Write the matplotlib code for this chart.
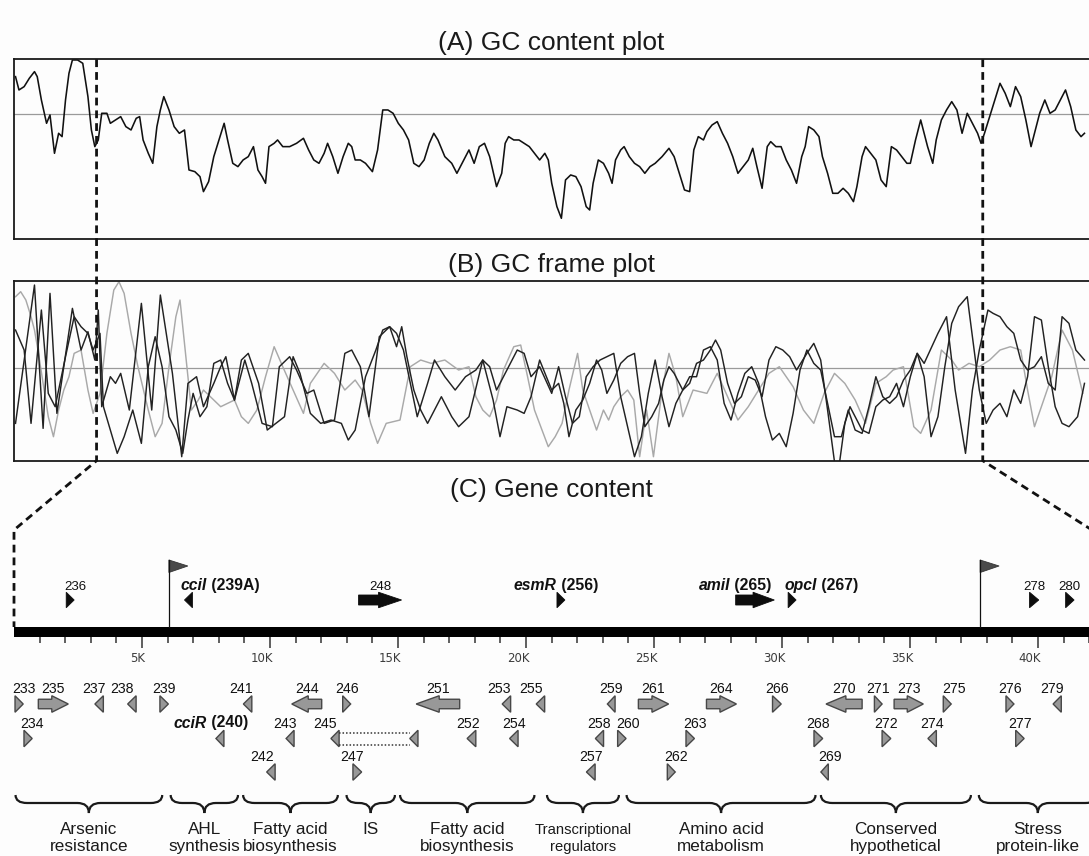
import numpy as np
import matplotlib
matplotlib.use("Agg")
import matplotlib.pyplot as plt
from matplotlib.patches import Polygon, PathPatch, Rectangle
from matplotlib.path import Path
from matplotlib.lines import Line2D

plt.rcParams['font.family'] = ['Liberation Sans', 'DejaVu Sans']

W, H = 1089, 856

# ---------------- (A) GC content: (window, GC %)
gc_content = [
    (45, 68.5), (55, 66.5), (70, 67.0), (85, 68.25), (100, 69.25), (108, 68.5), (120, 65.0), (135, 61.5),
    (145, 62.75), (158, 57.0), (170, 60.0), (180, 59.5), (190, 65.0), (200, 69.0), (210, 71.0), (225, 71.0),
    (240, 70.5), (255, 65.5), (265, 60.5), (275, 58.0), (285, 59.0), (295, 63.0), (310, 63.0), (320, 61.5),
    (335, 62.0), (350, 62.5), (365, 61.0), (380, 60.5), (395, 62.25), (405, 62.5), (415, 59.0), (430, 57.0),
    (443, 55.5), (455, 61.0), (465, 63.5), (475, 65.5), (490, 63.5), (505, 61.0), (520, 60.0), (535, 60.5),
    (548, 54.5), (565, 54.25), (580, 53.5), (590, 51.25), (605, 52.75), (620, 56.5), (635, 59.0), (650, 61.5),
    (660, 59.0), (675, 55.5), (690, 55.0), (705, 56.0), (720, 56.5), (735, 58.0), (748, 54.5), (760, 53.5),
    (770, 52.5), (780, 58.0), (795, 58.5), (805, 59.0), (820, 58.0), (840, 58.0), (860, 58.5), (880, 59.25),
    (895, 57.5), (910, 56.0), (925, 55.5), (940, 57.0), (950, 58.5), (965, 56.5), (980, 54.0), (995, 56.5),
    (1010, 58.5), (1020, 58.0), (1030, 56.0), (1045, 56.0), (1060, 55.5), (1080, 54.25), (1095, 57.5),
    (1110, 63.5), (1125, 63.5), (1140, 63.0), (1155, 61.5), (1170, 60.5), (1185, 59.0), (1200, 55.5),
    (1215, 55.0), (1230, 56.0), (1245, 58.5), (1258, 60.0), (1270, 59.0), (1290, 56.5), (1310, 55.5),
    (1325, 54.0), (1340, 55.5), (1360, 57.5), (1375, 55.5), (1390, 58.0), (1405, 58.5), (1420, 56.5),
    (1440, 52.0), (1455, 54.0), (1465, 58.5), (1475, 59.5), (1490, 59.0), (1505, 59.0), (1520, 58.5),
    (1535, 58.0), (1550, 57.0), (1565, 56.0),
    (1580, 57.0), (1590, 56.0), (1600, 52.5), (1615, 49.0), (1628, 47.25), (1640, 53.0), (1655, 53.75),
    (1670, 53.5), (1685, 52.0), (1700, 49.0), (1710, 48.5), (1720, 52.5), (1735, 56.0), (1750, 55.5),
    (1765, 54.0), (1775, 52.5), (1785, 56.0), (1800, 57.5), (1810, 58.0), (1825, 56.5), (1840, 55.5),
    (1855, 55.0), (1870, 54.0), (1885, 55.0), (1900, 55.5), (1920, 56.5), (1940, 57.75), (1955, 56.5),
    (1970, 54.0), (1985, 51.5), (2000, 51.25), (2012, 57.5), (2025, 59.5), (2040, 59.0), (2050, 60.25),
    (2065, 61.25), (2080, 61.75), (2095, 60.0), (2110, 58.5), (2125, 56.5), (2140, 54.0), (2155, 55.0),
    (2170, 56.0), (2183, 57.75), (2195, 55.0), (2210, 51.75), (2225, 58.0), (2235, 58.75), (2250, 58.0),
    (2265, 58.0), (2280, 56.0), (2295, 54.5), (2310, 52.5), (2325, 56.5), (2335, 58.0), (2345, 61.0),
    (2360, 60.5), (2375, 59.5), (2385, 56.5), (2400, 54.0), (2415, 51.0), (2430, 51.0), (2445, 51.75),
    (2460, 51.0), (2475, 49.75), (2485, 52.0), (2500, 56.5), (2510, 58.0), (2525, 57.0), (2540, 56.0),
    (2555, 53.0), (2570, 52.0), (2585, 58.0), (2600, 57.5), (2615, 56.5), (2630, 55.5), (2640, 55.5),
    (2655, 59.0), (2670, 62.0), (2680, 60.0), (2690, 58.0), (2705, 55.5), (2715, 59.0), (2730, 62.0),
    (2745, 63.5), (2760, 64.75), (2775, 63.5), (2790, 60.0), (2805, 63.0), (2820, 61.5), (2835, 60.0),
    (2845, 58.5), (2855, 60.0), (2870, 62.5), (2885, 65.0), (2900, 67.5), (2915, 66.0), (2930, 64.0),
    (2945, 67.0), (2960, 65.5), (2975, 62.0), (2990, 58.0), (3005, 61.0), (3015, 63.0), (3030, 65.0),
    (3045, 63.0), (3060, 63.5), (3075, 65.0), (3090, 66.5), (3105, 64.0), (3120, 60.5), (3135, 59.5),
    (3145, 60.0),
]

# ---------------- (B) GC frame plot: three frames (window, GC %)
frame1 = [
    (45, 48.0), (100, 89.5), (125, 46.5), (145, 87.0), (165, 51.0), (210, 82.5), (235, 70.0), (255, 75.5),
    (275, 67.0), (285, 82.0), (295, 53.0), (320, 62.0), (335, 60.0), (350, 63.0), (375, 52.0), (410, 84.0),
    (440, 52.0), (465, 86.5), (500, 63.0), (527, 38.0), (545, 60.0), (570, 62.0), (590, 53.0), (620, 60.0),
    (640, 65.0), (655, 68.0), (680, 55.0), (700, 67.0), (720, 69.0), (750, 60.0), (775, 46.0), (800, 48.0),
    (825, 50.0), (850, 68.0), (870, 63.0), (900, 51.0), (930, 48.0), (960, 49.0), (990, 48.0), (1010, 43.0),
    (1030, 46.0), (1060, 62.0), (1090, 70.0), (1110, 76.0), (1130, 77.0), (1150, 71.0), (1165, 77.0),
    (1180, 68.0), (1200, 58.0), (1220, 52.0), (1240, 48.0), (1280, 56.0), (1310, 50.0), (1330, 47.0),
    (1360, 50.0), (1400, 67.0), (1430, 55.0), (1450, 44.0), (1470, 53.0), (1500, 52.0), (1520, 51.0),
    (1540, 56.0), (1565, 67.0),
    (1600, 58.0), (1620, 60.0), (1635, 54.0), (1650, 44.0), (1670, 52.0), (1690, 55.0), (1710, 60.0),
    (1730, 67.0), (1745, 64.0), (1760, 57.0), (1780, 61.0), (1800, 66.0), (1820, 68.0), (1840, 69.0),
    (1855, 57.0), (1870, 47.0), (1890, 50.0), (1910, 54.0), (1925, 61.0), (1940, 65.0), (1955, 63.0),
    (1980, 58.0), (2000, 60.0), (2020, 66.0), (2040, 67.0), (2060, 70.0), (2075, 73.0), (2090, 70.0),
    (2110, 60.0), (2130, 54.0), (2150, 56.0), (2170, 62.0), (2190, 61.0), (2210, 56.0), (2230, 67.0),
    (2250, 71.0), (2270, 70.0), (2290, 68.0), (2310, 64.0), (2340, 69.0), (2360, 72.0), (2380, 67.0),
    (2400, 52.0), (2420, 36.5), (2435, 36.5), (2450, 48.0), (2465, 53.0), (2480, 50.0), (2500, 46.0),
    (2520, 45.0), (2540, 53.0), (2560, 55.0), (2580, 56.0), (2600, 60.0), (2620, 53.0), (2640, 62.0),
    (2660, 69.0), (2680, 66.0), (2720, 75.0), (2745, 80.0), (2770, 58.0), (2800, 39.0), (2820, 58.0),
    (2840, 70.0), (2865, 82.0), (2880, 81.0), (2900, 80.0), (2920, 77.0), (2940, 75.0), (2960, 67.0),
    (2980, 64.0), (3000, 65.0), (3020, 68.0), (3040, 60.0), (3060, 58.0), (3080, 80.0), (3100, 78.0),
    (3120, 70.0), (3145, 67.0),
]
frame2 = [
    (45, 76.0), (70, 70.0), (90, 48.0), (120, 82.0), (140, 57.0), (160, 53.0), (190, 68.0), (215, 80.0),
    (235, 77.0), (255, 75.0), (270, 70.0), (290, 75.0), (300, 53.0), (320, 46.0), (340, 39.0), (360, 44.0),
    (385, 52.0), (410, 42.0), (430, 65.0), (450, 74.0), (470, 65.0), (490, 50.0), (510, 46.0), (530, 39.0),
    (545, 49.0), (560, 57.0), (580, 50.0), (600, 53.0), (620, 66.0), (640, 67.0), (660, 60.0), (680, 55.0),
    (710, 67.0), (730, 60.0), (760, 48.0), (790, 47.0), (810, 65.0), (840, 68.0), (860, 64.0), (890, 57.0),
    (910, 58.0), (940, 48.0), (970, 49.0), (1000, 69.0), (1020, 70.0), (1045, 65.0), (1070, 50.0),
    (1100, 74.0), (1130, 77.0), (1150, 75.0), (1170, 70.0), (1190, 60.0), (1210, 50.0), (1240, 60.0),
    (1260, 67.0), (1290, 62.0), (1320, 58.0), (1350, 62.0), (1380, 64.0), (1400, 67.0), (1420, 65.0),
    (1440, 58.0), (1460, 62.0), (1480, 66.0), (1500, 70.0), (1520, 69.0), (1540, 62.0), (1565, 65.0),
    (1600, 57.0), (1620, 65.0), (1640, 56.0), (1660, 48.0), (1680, 50.0), (1700, 62.0), (1720, 65.0),
    (1740, 67.0), (1760, 68.0), (1780, 69.0), (1800, 56.0), (1820, 47.0), (1840, 38.0), (1860, 44.0),
    (1880, 57.0), (1900, 67.0), (1920, 56.0), (1940, 47.0), (1960, 54.0), (1980, 58.0), (2000, 62.0),
    (2020, 62.0), (2040, 70.0), (2060, 71.0), (2080, 67.0), (2100, 54.0), (2120, 49.0), (2140, 57.0),
    (2160, 63.0), (2180, 65.0), (2200, 60.0), (2220, 50.0), (2240, 43.0), (2260, 45.0), (2280, 41.0),
    (2300, 51.0), (2320, 64.0), (2340, 70.0), (2360, 66.0), (2380, 64.0), (2400, 54.0), (2420, 44.0),
    (2440, 44.0), (2460, 52.0), (2480, 46.0), (2500, 45.0), (2520, 53.0), (2540, 62.0), (2560, 56.0),
    (2580, 54.0), (2600, 56.0), (2620, 61.0), (2640, 64.0), (2660, 69.0), (2680, 62.0), (2700, 44.0),
    (2720, 50.0), (2740, 65.0), (2760, 78.0), (2780, 83.0), (2805, 86.0), (2825, 70.0), (2840, 58.0),
    (2860, 48.0), (2880, 52.0), (2900, 54.0), (2920, 50.0), (2940, 58.0), (2960, 54.0), (2980, 62.0),
    (3000, 80.0), (3020, 79.0), (3040, 65.0), (3060, 53.0), (3080, 48.0), (3100, 47.0), (3125, 50.0),
    (3145, 60.0),
]
frame3 = [
    (45, 86.0), (60, 87.5), (75, 85.0), (90, 80.0), (100, 76.0), (110, 70.0), (125, 60.0), (140, 50.0),
    (155, 44.0), (170, 52.0), (185, 58.0), (200, 62.0), (215, 69.0), (235, 70.0), (255, 58.0), (270, 51.0),
    (290, 57.0), (310, 75.0), (330, 88.0), (345, 90.5), (360, 87.0), (380, 75.0), (400, 65.0), (430, 52.0),
    (450, 44.0), (470, 48.0), (490, 65.0), (510, 80.0), (522, 85.0), (540, 67.0), (555, 52.0), (575, 55.0),
    (590, 58.0), (610, 56.0), (640, 53.0), (680, 55.0), (700, 50.0), (720, 48.0), (745, 52.0), (770, 62.0),
    (795, 71.0), (820, 65.0), (850, 58.0), (880, 51.0), (900, 60.0), (940, 66.0), (970, 63.0), (1000, 58.0),
    (1030, 61.0), (1050, 58.0), (1075, 48.0), (1095, 42.0), (1120, 48.0), (1160, 49.0), (1190, 65.0),
    (1220, 67.0), (1250, 66.0), (1290, 67.0), (1330, 64.0), (1360, 65.0), (1380, 56.0), (1400, 52.0),
    (1420, 50.0), (1440, 55.0), (1460, 64.0), (1490, 71.0), (1510, 71.5), (1530, 62.0), (1550, 52.0),
    (1590, 41.0), (1610, 44.0), (1630, 48.0), (1650, 58.0), (1675, 69.0), (1690, 58.0), (1710, 52.0),
    (1730, 46.0), (1750, 52.0), (1765, 49.0), (1780, 53.0), (1800, 56.0), (1820, 58.0), (1838, 55.0),
    (1855, 38.0), (1875, 52.0), (1895, 38.0), (1920, 58.0), (1940, 69.0), (1960, 62.0), (1980, 50.0),
    (2010, 58.0), (2050, 57.0), (2080, 63.0), (2110, 56.0), (2140, 49.0), (2170, 53.0), (2200, 58.0),
    (2230, 63.0), (2260, 65.0), (2300, 59.0), (2330, 52.0), (2360, 48.0), (2390, 57.0), (2420, 63.0),
    (2450, 60.0), (2480, 55.0), (2510, 48.0), (2540, 60.0), (2570, 62.0), (2590, 64.0), (2620, 65.0),
    (2650, 47.0), (2670, 45.0), (2700, 52.0), (2730, 70.0), (2760, 67.0), (2780, 64.0), (2810, 66.0),
    (2840, 65.0), (2870, 67.0), (2900, 70.0), (2930, 71.0), (2960, 70.0), (2980, 58.0), (3000, 47.0),
    (3020, 53.0), (3050, 62.0), (3080, 76.0), (3110, 70.0), (3140, 57.0),
]

gc_mean = 62.85
frame_mean = 64.5
gc_ylim = (44.1, 71.1)
frame_ylim = (36.8, 90.8)
window_lim = (40.6, 3166.8)
zoom_windows = (280, 2850)        # region expanded in panel C

# ---------------- (C) gene content (kb)
region_kb = (0.0, 42.11)
flag_kb = [6.05, 37.74]

top_genes = [   # id, start, end, strand
    ('236', 2.04, 2.35, 1),
    ('239A', 6.66, 6.97, -1),
    ('248', 13.46, 15.14, 1),
    ('256', 21.21, 21.52, 1),
    ('265', 28.19, 29.70, 1),
    ('267', 30.24, 30.55, 1),
    ('278', 39.67, 40.03, 1),
    ('280', 41.08, 41.41, 1),
]

lower_genes = [   # id, start, end, strand, row
    ('233', 0.04, 0.36, 1, 1), ('235', 0.95, 2.12, 1, 1), ('237', 3.16, 3.49, -1, 1),
    ('238', 4.44, 4.77, -1, 1), ('239', 5.70, 6.03, 1, 1), ('241', 8.96, 9.29, -1, 1),
    ('244', 10.85, 12.02, -1, 1), ('246', 12.84, 13.15, 1, 1), ('251', 15.71, 17.41, -1, 1),
    ('253', 19.07, 19.40, -1, 1), ('255', 20.40, 20.73, -1, 1), ('259', 23.18, 23.48, -1, 1),
    ('261', 24.39, 25.57, 1, 1), ('264', 27.05, 28.22, 1, 1), ('266', 29.63, 29.97, 1, 1),
    ('270', 31.72, 33.13, -1, 1), ('271', 33.61, 33.91, 1, 1), ('273', 34.38, 35.52, 1, 1),
    ('275', 36.30, 36.61, 1, 1), ('276', 38.75, 39.06, 1, 1), ('279', 40.59, 40.91, -1, 1),
    ('234', 0.39, 0.71, 1, 2), ('240', 7.89, 8.20, -1, 2), ('243', 10.63, 10.94, -1, 2),
    ('252', 17.70, 18.04, -1, 2), ('254', 19.36, 19.69, -1, 2), ('258', 22.71, 23.03, -1, 2),
    ('260', 23.58, 23.91, 1, 2), ('263', 26.25, 26.58, 1, 2), ('268', 31.25, 31.59, 1, 2),
    ('272', 33.91, 34.25, 1, 2), ('274', 35.70, 36.03, -1, 2), ('277', 39.13, 39.46, 1, 2),
    ('242', 9.87, 10.20, -1, 3), ('247', 13.24, 13.58, 1, 3), ('257', 22.36, 22.70, -1, 3),
    ('262', 25.52, 25.83, 1, 3), ('269', 31.52, 31.81, -1, 3),
]

is_elements = [('245', 12.38, 15.78, -1, 2)]

gene_names = {'239A': 'cciI', '240': 'cciR', '256': 'esmR', '265': 'amiI', '267': 'opcI'}

groups = [
    ('Arsenic', 'resistance', 0.06, 5.79),
    ('AHL', 'synthesis', 6.12, 8.75),
    ('Fatty acid', 'biosynthesis', 8.95, 12.65),
    ('IS', '', 12.99, 14.88),
    ('Fatty acid', 'biosynthesis', 15.08, 20.33),
    ('Transcriptional', 'regulators', 20.82, 23.63),
    ('Amino acid', 'metabolism', 23.93, 31.31),
    ('Conserved', 'hypothetical', 31.52, 37.38),
    ('Stress', 'protein-like', 37.69, 42.30),
]

# label nudges (kb) - styling only
nudge = {'233': 0.2, '234': 0.15, '236': 0.2, '237': -0.2, '238': -0.4, '241': -0.27, '242': -0.35,
         '243': -0.2, '245': -0.4, '247': -0.2, '252': -0.15, '253': -0.3, '255': -0.35, '260': 0.25,
         '262': 0.2, '263': 0.2, '269': 0.2, '275': 0.25, '279': -0.2,
         '239A': 1.23, '240': -0.36, '256': -0.2, '265': -0.77, '267': 1.16}

# ---------------------------------------------------------------
fig = plt.figure(figsize=(W / 100, H / 100), dpi=100, facecolor='#fdfdfd')


def px_axes(x0, y0, x1, y1):
    return fig.add_axes([x0 / W, 1 - y1 / H, (x1 - x0) / W, (y1 - y0) / H])


def style_panel(ax):
    ax.set_facecolor('none')
    ax.set_xticks([])
    ax.set_yticks([])
    for s in ax.spines.values():
        s.set_linewidth(1.3)
        s.set_color('#1a1a1a')


axA = px_axes(14, 59.3, 1092, 239.3)
axB = px_axes(14, 280.7, 1092, 460.7)
axG = px_axes(14, 500, 1092, 856)

# ---- panel A
style_panel(axA)
w, v = zip(*gc_content)
axA.axhline(gc_mean, color='#9a9a9a', lw=0.9)
axA.plot(w, v, color='#111111', lw=1.15)
axA.set_xlim(window_lim)
axA.set_ylim(gc_ylim)

# ---- panel B
style_panel(axB)
axB.axhline(frame_mean, color='#9a9a9a', lw=0.9)
w, v = zip(*frame3)
axB.plot(w, v, color='#a9a9a9', lw=1.05)
for fr in (frame1, frame2):
    w, v = zip(*fr)
    axB.plot(w, v, color='#222222', lw=1.05)
axB.set_xlim(window_lim)
axB.set_ylim(frame_ylim)

# ---- titles
for txt, yb in [('(A) GC content plot', 50), ('(B) GC frame plot', 271.7), ('(C) Gene content', 496.7)]:
    fig.text(551 / W, 1 - yb / H, txt, ha='center', va='baseline', fontsize=19, color='#1a1a1a')

# ---- panel C
axG.set_axis_off()
axG.set_xlim(region_kb)
axG.set_ylim(856, 500)

bar_top, bar_bot = 627, 636.5
axG.add_patch(Rectangle((region_kb[0], bar_top), region_kb[1] - region_kb[0], bar_bot - bar_top,
                        color='black', lw=0))
minor = [k for k in np.arange(1, 43) if k % 5 != 0]
major = np.arange(5, 45, 5)
axG.vlines(minor, bar_bot, bar_bot + 6, color='#333333', lw=1.1)
axG.vlines(major, bar_bot, bar_bot + 11, color='#333333', lw=1.1)
for k in major:
    axG.text(k + 0.13, 662, f'{k}K', ha='right', va='baseline', fontsize=8.5, color='#3c3c3c',
             family='DejaVu Sans')

for f in flag_kb:
    axG.plot([f, f], [bar_top, 560], color='#111111', lw=0.9)
    axG.add_patch(Polygon([(f, 560), (f + 0.74, 566), (f, 572.5)], closed=True, fc='#4a4a4a', ec='#333333', lw=0.6))


def gene_poly(start, end, strand, yc, hh, hb):
    length = end - start
    if length < 0.5:
        if strand > 0:
            pts = [(start, yc - hh / 2), (end, yc), (start, yc + hh / 2)]
        else:
            pts = [(end, yc - hh / 2), (start, yc), (end, yc + hh / 2)]
    else:
        hl = min(0.55 * length, 0.9)
        if strand > 0:
            pts = [(start, yc - hb / 2), (end - hl, yc - hb / 2), (end - hl, yc - hh / 2), (end, yc),
                   (end - hl, yc + hh / 2), (end - hl, yc + hb / 2), (start, yc + hb / 2)]
        else:
            pts = [(end, yc - hb / 2), (start + hl, yc - hb / 2), (start + hl, yc - hh / 2), (start, yc),
                   (start + hl, yc + hh / 2), (start + hl, yc + hb / 2), (end, yc + hb / 2)]
    return pts


renderer = fig.canvas.get_renderer()


def name_label(xc, yb, name, num, size):
    t1 = axG.text(xc, yb, name, fontsize=size, fontweight='bold', fontstyle='italic',
                  ha='left', va='baseline', color='#111111')
    t2 = axG.text(xc, yb, f' ({num})', fontsize=size, fontweight='bold',
                  ha='left', va='baseline', color='#111111')
    w1 = t1.get_window_extent(renderer).width
    w2 = t2.get_window_extent(renderer).width
    xd = axG.transData.transform((xc, yb))[0] - (w1 + w2) / 2
    inv = axG.transData.inverted()
    t1.set_x(inv.transform((xd, 0))[0])
    t2.set_x(inv.transform((xd + w1, 0))[0])


def gene_label(gid, start, end, yb, size):
    xc = (start + end) / 2 + nudge.get(gid, 0)
    if gid in gene_names:
        name_label(xc, yb, gene_names[gid], gid, 11.3)
    else:
        axG.text(xc, yb, gid, ha='center', va='baseline', fontsize=size, color='#111111')


top_y = 600
for gid, s, e, st in top_genes:
    axG.add_patch(Polygon(gene_poly(s, e, st, top_y, 15.5, 10), closed=True, fc='#0d0d0d', ec='#0d0d0d', lw=0.6))
    gene_label(gid, s, e, 590, 9.5)

row_y = {1: 704, 2: 738.5, 3: 772}
gray_fc, gray_ec = '#989898', '#474747'
for gid, s, e, st, r in lower_genes:
    yc = row_y[r]
    axG.add_patch(Polygon(gene_poly(s, e, st, yc, 16.5, 9.5), closed=True, fc=gray_fc, ec=gray_ec, lw=1.0))
    gene_label(gid, s, e, yc - 11, 10.2)

for gid, s, e, st, r in is_elements:
    yc = row_y[r]
    tw = 0.32
    axG.add_patch(Polygon(gene_poly(s, s + tw, st, yc, 16.5, 9.5), closed=True, fc=gray_fc, ec=gray_ec, lw=1.0))
    axG.add_patch(Polygon(gene_poly(e - tw, e, st, yc, 16.5, 9.5), closed=True, fc=gray_fc, ec=gray_ec, lw=1.0))
    for dy in (-6, 6):
        axG.plot([s + tw, e - tw], [yc + dy, yc + dy], color='#333333', lw=1.1, linestyle=(0, (1, 1.3)))
    gene_label(gid, s, s + tw, yc - 11, 10.2)


def brace(a, b, y_end=795, y_line=803, y_tip=813, r=0.45):
    m = (a + b) / 2
    verts = [(a, y_end), (a, y_line), (a + r, y_line), (m - r, y_line), (m, y_line), (m, y_tip),
             (m, y_line), (m + r, y_line), (b - r, y_line), (b, y_line), (b, y_end)]
    codes = [Path.MOVETO, Path.CURVE3, Path.CURVE3, Path.LINETO, Path.CURVE3, Path.CURVE3,
             Path.CURVE3, Path.CURVE3, Path.LINETO, Path.CURVE3, Path.CURVE3]
    return PathPatch(Path(verts, codes), fc='none', ec='#1a1a1a', lw=1.6)


for l1, l2, a, b in groups:
    axG.add_patch(brace(a, b))
    m = (a + b) / 2
    fs = 10.6 if len(l1) > 12 else 12.3   # the long label is set narrower in the figure
    axG.text(m, 834, l1, ha='center', va='baseline', fontsize=fs, color='#1a1a1a')
    if l2:
        axG.text(m, 851, l2, ha='center', va='baseline', fontsize=fs, color='#1a1a1a')

# ---- dashed zoom connectors
inv_fig = fig.transFigure.inverted()


def to_fig(ax, x, y):
    return inv_fig.transform(ax.transData.transform((x, y)))


dash = dict(color='#111111', lw=2.0, linestyle=(0, (2.8, 1.8)))
for wpos, kb in zip(zoom_windows, region_kb):
    p1 = to_fig(axA, wpos, gc_ylim[1])
    p2 = to_fig(axB, wpos, frame_ylim[0])
    p3 = to_fig(axG, kb, 530)
    xs = [p1[0], p2[0], p3[0]]
    ys = [p1[1], p2[1], p3[1]]
    if kb == region_kb[0]:
        p4 = to_fig(axG, kb, bar_top)
        xs.append(p4[0])
        ys.append(p4[1])
    fig.add_artist(Line2D(xs, ys, transform=fig.transFigure, **dash))

fig.savefig('out.png', dpi=100, facecolor=fig.get_facecolor())
